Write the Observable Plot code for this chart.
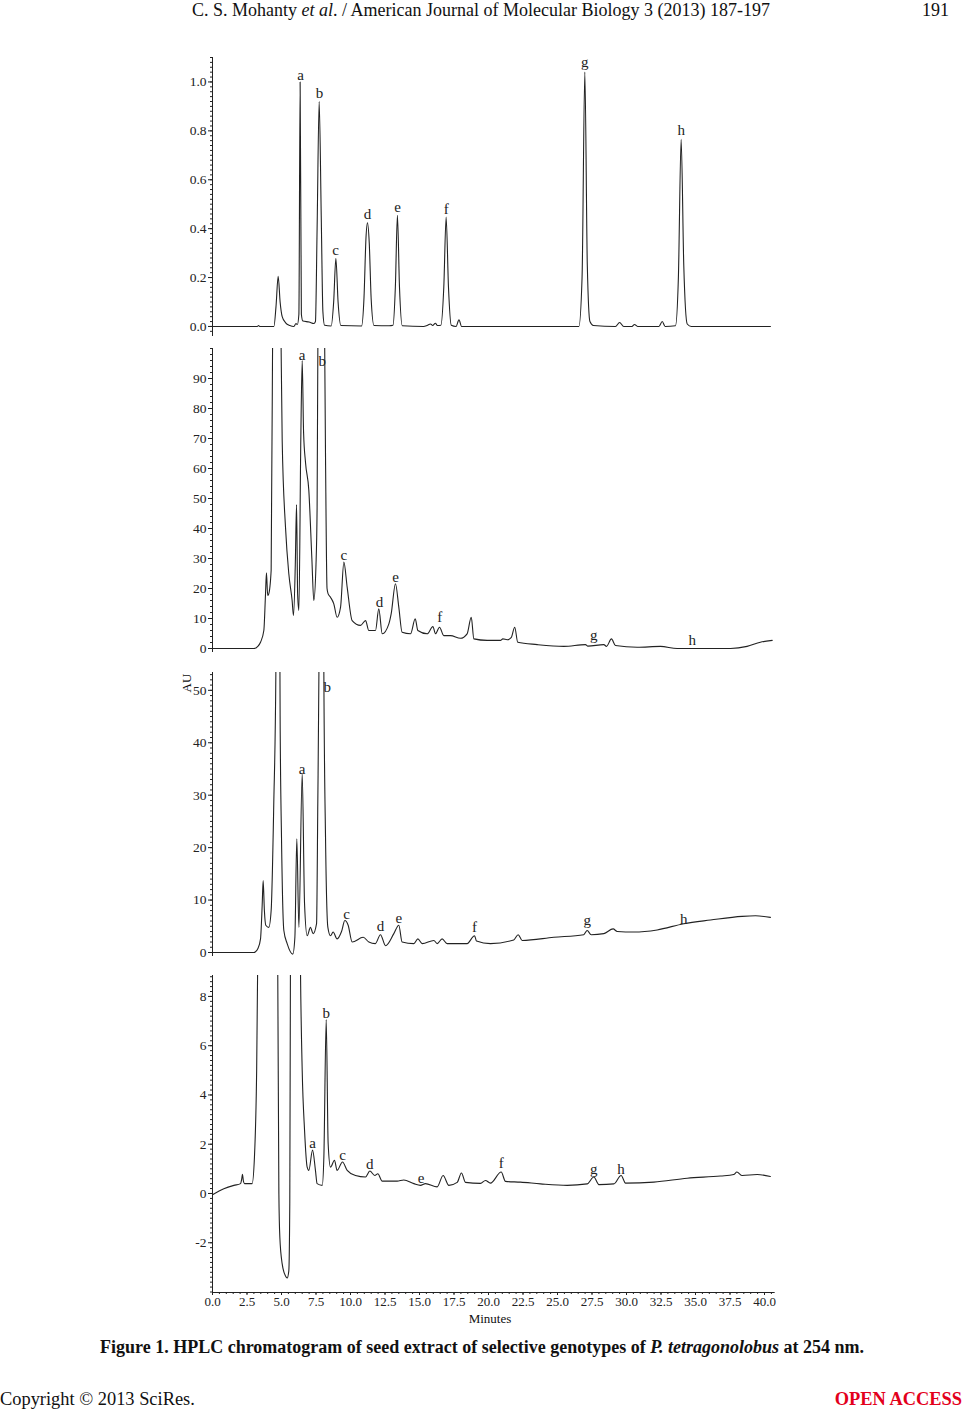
<!DOCTYPE html>
<html>
<head>
<meta charset="utf-8">
<script src="https://cdn.jsdelivr.net/npm/d3@7"></script>
<script src="https://cdn.jsdelivr.net/npm/@observablehq/plot@0.6"></script>
<style>
  body { margin: 0; background: #fff; }
  #page { position: relative; width: 964px; height: 1414px; font-family: 'Liberation Serif', 'Times New Roman', serif; color: #111; overflow: hidden; }
  .abs { position: absolute; white-space: nowrap; }
  .panel { position: absolute; left: 0; }
  .panel svg { overflow: visible; }
</style>
</head>
<body>
<div id="page">
  <div class="abs" style="left:0;width:962px;top:0px;text-align:center;font-size:18px;">C. S. Mohanty <i>et al</i>. / American Journal of Molecular Biology 3 (2013) 187-197</div>
  <div class="abs" style="right:15px;top:0px;font-size:18px;">191</div>
  <div class="panel" id="p1" style="top:45px"></div>
  <div class="panel" id="p2" style="top:340px"></div>
  <div class="panel" id="p3" style="top:662px"></div>
  <div class="panel" id="p4" style="top:965px"></div>
  <div class="abs" style="left:187px;top:683px;font-size:13px;transform:translate(-50%,-50%) rotate(-90deg);">AU</div>
  <div class="abs" style="left:440px;width:100px;top:1311px;text-align:center;font-size:13px;">Minutes</div>
  <div class="abs" style="left:0;width:964px;top:1337px;text-align:center;font-size:18px;font-weight:bold;">Figure 1. HPLC chromatogram of seed extract of selective genotypes of <i>P. tetragonolobus</i> at 254 nm.</div>
  <div class="abs" style="left:0;top:1389px;font-size:18.4px;">Copyright © 2013 SciRes.</div>
  <div class="abs" style="right:2px;top:1389px;font-size:18.4px;font-weight:bold;color:#e3001b;">OPEN ACCESS</div>
</div>
<script>
// Retention time (min) and detector response for each genotype.
const trace1 = [
  [0,0],[3.25,0],[3.33,0.004],[3.42,0],[4.45,0],[4.6,0.08],[4.76,0.205],[4.9,0.1],[5.05,0.04],[5.3,0.015],[5.6,0.004],
  [5.9,0],[6.05,0.012],[6.15,0.008],[6.26,0.05],[6.35,1.0],[6.44,0.05],[6.55,0.022],[7.0,0.018],[7.35,0.012],[7.46,0.02],
  [7.58,0.4],[7.73,0.92],[7.88,0.45],[8.0,0.06],[8.12,0.005],[8.6,0.002],[8.78,0.1],[8.94,0.279],[9.1,0.1],[9.3,0.004],
  [10.8,0.002],[10.98,0.12],[11.12,0.36],[11.23,0.424],[11.36,0.34],[11.5,0.11],[11.7,0.004],[12.8,0.003],[13.08,0.005],
  [13.25,0.16],[13.4,0.455],[13.55,0.16],[13.75,0.003],[15.3,0],[15.55,0.004],[15.8,0.01],[15.95,0.004],[16.15,0.013],
  [16.3,0.004],[16.55,0.005],[16.76,0.16],[16.93,0.447],[17.1,0.16],[17.3,0.005],[17.65,0],[17.86,0.027],[18.05,0],
  [26.55,0],[26.78,0.2],[26.98,1.04],[27.16,0.25],[27.35,0.02],[27.6,0.004],[29.2,0],[29.5,0.016],[29.8,0],[30.4,0],
  [30.58,0.008],[30.8,0],[32.35,0],[32.59,0.02],[32.8,0],[33.55,0.003],[33.76,0.2],[33.96,0.765],[34.15,0.25],[34.4,0.01],
  [34.7,0],[40.43,0]
];
const trace2 = [
  [0,0],[3.0,0],[3.3,0.8],[3.48,2.1],[3.72,6],[3.84,18],[3.91,25.2],[4.0,17.7],[4.06,18],[4.25,26],[4.4,140],[4.66,200],
  [4.95,110],[5.05,69.3],[5.29,40.4],[5.53,24.9],[5.77,16],[5.87,11],[6.0,28],[6.09,48],[6.17,18],[6.26,12.7],[6.4,70],
  [6.5,96],[6.6,72],[6.74,62],[6.98,52.7],[7.2,30],[7.34,16],[7.5,28],[7.58,47],[7.68,150],[7.85,220],[8.05,150],
  [8.19,63.8],[8.3,20],[8.38,18.2],[8.55,17.1],[8.79,14.9],[9.03,10.4],[9.28,13.8],[9.52,28.8],[9.76,20.4],[10.12,9.3],
  [10.72,7.7],[11.09,9.3],[11.33,6],[11.81,6],[12.05,13.2],[12.3,4.9],[12.78,8.2],[12.95,11.6],[13.26,21.6],[13.5,13.8],
  [13.74,5.4],[14.35,4.9],[14.69,9.9],[14.88,6],[15.56,4.9],[15.97,7.3],[16.16,4.9],[16.45,7.1],[16.76,4.3],[17.25,4.3],
  [17.97,3.4],[18.45,4.9],[18.75,10.4],[18.94,3.2],[19.9,2.7],[20.87,2.7],[21.04,3.2],[21.35,2.9],[21.64,3.6],[21.9,7.1],
  [22.12,2.1],[23.53,1.3],[25.46,0.7],[27.03,1.3],[27.2,0.8],[28.36,1.3],[28.55,0.7],[28.91,3.2],[29.2,1],[30.77,0.4],
  [32.46,0.7],[33.67,0],[35.6,0],[37.54,0],[38.74,0.7],[39.7,2.1],[40.56,2.7]
];
const trace3 = [
  [0,0],[3.0,0],[3.3,0.8],[3.48,2.6],[3.6,9],[3.67,13.7],[3.76,8],[3.86,5.2],[4.08,4.8],[4.25,8],[4.44,28.4],[4.59,53],
  [4.7,110],[4.78,130],[4.85,80],[4.9,45],[5.0,22],[5.17,4.2],[5.41,1.7],[5.82,-0.3],[5.97,2.9],[6.11,21.7],[6.26,4.8],
  [6.5,34.1],[6.67,9.3],[6.86,3.2],[7.1,4.8],[7.29,3.6],[7.54,5.5],[7.63,28.4],[7.71,53],[7.8,110],[7.9,130],[8.0,100],
  [8.07,53],[8.19,22],[8.36,4.8],[8.55,3.2],[8.74,3.9],[9.03,2.6],[9.35,4],[9.59,6.1],[9.83,5.2],[10.12,2],[10.92,2.9],
  [11.33,2],[11.8,1.7],[12.17,3.4],[12.54,1.3],[13.14,3.6],[13.5,5.2],[13.74,2],[14.59,1.7],[14.88,2.6],[15.2,1.7],
  [16.04,2.3],[16.28,1.7],[16.64,2.6],[17.0,1.7],[18.45,1.7],[18.99,3.2],[19.13,2.2],[20.14,1.7],[21.83,2.4],[22.15,3.4],
  [22.44,2.3],[24.73,2.9],[26.9,3.4],[27.15,4.2],[27.44,3.4],[28.36,3.6],[29.03,4.5],[29.33,4],[30.53,3.9],[32.22,4.3],
  [34.15,5.5],[36.09,6.2],[38.38,6.9],[39.35,7],[40.43,6.7]
];
const trace4 = [
  [0,-0.05],[0.82,0.19],[1.55,0.33],[2.03,0.4],[2.12,0.6],[2.17,0.78],[2.24,0.5],[2.32,0.4],[2.87,0.4],[3.04,1.48],[3.2,5],
  [3.35,14],[4.0,40],[4.6,14],[4.73,8.85],[4.81,0],[4.88,-1.78],[5.05,-2.86],[5.29,-3.35],[5.41,-3.43],[5.53,-3.14],
  [5.6,-0.4],[5.66,12],[6.0,40],[6.3,14],[6.38,8.85],[6.5,5.0],[6.67,2.57],[6.86,1.07],[6.98,0.94],[7.25,1.76],[7.46,0.94],
  [7.58,0.4],[7.95,0.33],[8.07,1.48],[8.24,7.06],[8.38,2.03],[8.55,1.07],[8.84,1.35],[9.03,0.94],[9.42,1.28],[9.76,0.94],
  [10.36,0.73],[11.09,0.67],[11.4,0.91],[11.76,0.73],[11.98,0.8],[12.3,0.5],[13.38,0.5],[13.86,0.55],[14.59,0.4],
  [15.07,0.33],[15.43,0.4],[16.28,0.27],[16.71,0.73],[17.13,0.33],[17.73,0.45],[18.04,0.83],[18.33,0.45],[19.42,0.41],
  [19.78,0.53],[20.14,0.42],[20.92,0.87],[21.23,0.49],[22.32,0.46],[23.77,0.39],[25.7,0.33],[27.15,0.39],[27.63,0.67],
  [28.0,0.36],[29.08,0.39],[29.61,0.73],[29.93,0.42],[31.98,0.46],[34.4,0.62],[36.81,0.71],[37.77,0.77],[38.0,0.87],
  [38.38,0.73],[39.47,0.77],[40.43,0.69]
];

// Peak letters: [letter, time, response at the letter]
const labels1 = [["a",6.38,1.029],["b",7.75,0.955],["c",8.91,0.311],["d",11.23,0.459],["e",13.41,0.488],["f",16.93,0.48],["g",26.98,1.082],["h",33.96,0.803]];
const labels2 = [["a",6.5,97.7],["b",7.95,95.7],["c",9.52,31],["d",12.1,15.4],["e",13.26,23.8],["f",16.47,10.4],["g",27.63,4.3],["h",34.76,2.7]];
const labels3 = [["a",6.5,34.9],["b",8.31,50.6],["c",9.71,7.4],["d",12.17,4.96],["e",13.5,6.6],["f",18.99,4.8],["g",27.15,6.1],["h",34.15,6.4]];
const labels4 = [["a",7.25,2.05],["b",8.24,7.33],["c",9.42,1.55],["d",11.4,1.17],["e",15.12,0.64],["f",20.92,1.21],["g",27.63,1.0],["h",29.61,1.0]];

// Axis ticks
const ticks1 = [0, 0.2, 0.4, 0.6, 0.8, 1.0];
const ticks2 = [0, 10, 20, 30, 40, 50, 60, 70, 80, 90];
const ticks3 = [0, 10, 20, 30, 40, 50];
const ticks4 = [-2, 0, 2, 4, 6, 8];
const minuteTicks = [0, 2.5, 5, 7.5, 10, 12.5, 15, 17.5, 20, 22.5, 25, 27.5, 30, 32.5, 35, 37.5, 40];

const FONT = "'Liberation Serif', 'Times New Roman', serif";
const INK = "#222";

function panel({trace, labels, domain, ticks, minorStep, format, height, marginTop, marginBottom, xAxis}) {
  const pts = trace.map(([t, v]) => ({t, v}));
  const lab = labels.map(([peak, t, v]) => ({peak, t, v}));
  const minor = d3.range(Math.ceil(domain[0] / minorStep) * minorStep, domain[1] + 1e-9, minorStep);
  const marks = [
    Plot.frame({anchor: "left", stroke: INK, strokeWidth: 1}),
    Plot.axisY(minor, {tickSize: 2, text: null, label: null, stroke: INK}),
    Plot.axisY(ticks, {tickSize: 4, tickPadding: 2, tickFormat: format, label: null, stroke: INK, fill: INK, fontSize: 13.5}),
    Plot.line(pts, {x: "t", y: "v", curve: "monotone-x", clip: true, stroke: INK, strokeWidth: 1.1}),
    Plot.text(lab, {x: "t", y: "v", text: "peak", fontSize: 15, fill: INK})
  ];
  if (xAxis) {
    marks.push(
      Plot.frame({anchor: "bottom", stroke: INK, strokeWidth: 1}),
      Plot.axisX(d3.range(0, 40.51, 0.5), {tickSize: 2, text: null, label: null, stroke: INK}),
      Plot.axisX(minuteTicks, {tickSize: 3, tickPadding: 1, tickFormat: d3.format(".1f"), label: null, stroke: INK, fill: INK, fontSize: 13})
    );
  }
  return Plot.plot({
    width: 800,
    height,
    marginLeft: 212,
    marginRight: 800 - (212 + 13.8 * 40.7),
    marginTop,
    marginBottom,
    style: {fontFamily: FONT, fontSize: "13px", color: INK, background: "transparent"},
    x: {domain: [0, 40.7], axis: null},
    y: {domain, axis: null},
    marks
  });
}

document.getElementById("p1").append(panel({trace: trace1, labels: labels1, domain: [-0.037, 1.10], ticks: ticks1, minorStep: 0.02, format: d3.format(".1f"), height: 300, marginTop: 12, marginBottom: 10}));
document.getElementById("p2").append(panel({trace: trace2, labels: labels2, domain: [-1, 100], ticks: ticks2, minorStep: 2, format: d => String(d), height: 320, marginTop: 8, marginBottom: 9}));
document.getElementById("p3").append(panel({trace: trace3, labels: labels3, domain: [-0.57, 53.4], ticks: ticks3, minorStep: 1, format: d => String(d), height: 300, marginTop: 10, marginBottom: 7}));
document.getElementById("p4").append(panel({trace: trace4, labels: labels4, domain: [-4.02, 8.85], ticks: ticks4, minorStep: 0.2, format: d => String(d), height: 365, marginTop: 10, marginBottom: 38, xAxis: true}));
</script>
</body>
</html>
